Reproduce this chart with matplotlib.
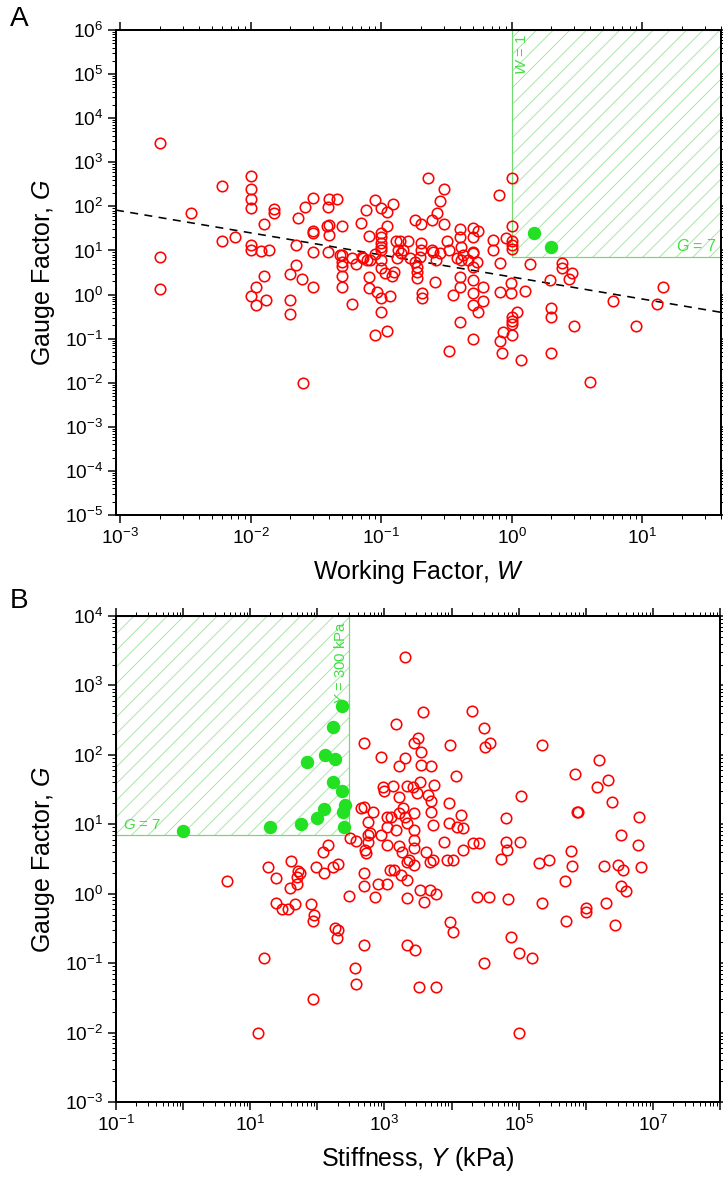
import numpy as np
import matplotlib
matplotlib.use('Agg')
import matplotlib.pyplot as plt
from matplotlib.ticker import LogLocator, FuncFormatter, NullFormatter
from matplotlib.patches import Rectangle

DPI = 100


def px(v):
    # pixel size -> points at the output dpi
    return v * 72.0 / DPI


plt.rcParams['font.family'] = 'Liberation Sans'
plt.rcParams['mathtext.fontset'] = 'custom'
plt.rcParams['mathtext.rm'] = 'Liberation Sans'
plt.rcParams['mathtext.it'] = 'Liberation Sans:italic'
plt.rcParams['mathtext.default'] = 'regular'
plt.rcParams['axes.unicode_minus'] = False
plt.rcParams['hatch.linewidth'] = px(0.9)

# ---- panel A: gauge factor vs working factor ----
W_red = [0.002, 0.002, 0.002, 0.0035, 0.006, 0.006, 0.0075,
         0.01, 0.01, 0.01, 0.01, 0.01, 0.01, 0.01, 0.011, 0.011,
         0.012, 0.0138, 0.0125, 0.0126, 0.013, 0.015, 0.015,
         0.02, 0.02, 0.02, 0.022, 0.022, 0.023, 0.0245, 0.025, 0.026,
         0.03, 0.03, 0.03, 0.03, 0.03, 0.038, 0.039, 0.039,
         0.04, 0.046, 0.04, 0.04, 0.05, 0.05, 0.05, 0.05, 0.05, 0.05,
         0.06, 0.064, 0.07, 0.076, 0.08, 0.072, 0.078, 0.08, 0.08, 0.092,
         0.09, 0.1, 0.11, 0.122, 0.11, 0.1, 0.1, 0.1, 0.1, 0.1,
         0.089, 0.1, 0.1, 0.106, 0.12, 0.125, 0.13, 0.135, 0.139, 0.16,
         0.1, 0.117, 0.1, 0.09, 0.11, 0.147, 0.18, 0.2, 0.2, 0.2,
         0.186, 0.186, 0.186, 0.203, 0.203, 0.226, 0.245, 0.265, 0.28, 0.3,
         0.3, 0.245, 0.26, 0.257, 0.32, 0.33, 0.355, 0.33,
         0.4, 0.4, 0.41, 0.41, 0.4, 0.4, 0.4,
         0.5, 0.55, 0.5, 0.5, 0.5, 0.5, 0.5, 0.5, 0.55, 0.5,
         0.6, 0.6, 0.71, 0.71, 0.8, 0.81, 0.81, 0.86, 0.81, 0.84, 0.9,
         1.0, 1.0, 1.0, 1.0, 1.0, 0.99, 0.99, 1.0, 1.0, 1.0, 1.0,
         1.1, 1.26, 1.17, 1.37, 1.96, 2.0, 2.0, 2.0,
         2.43, 2.43, 2.9, 2.76, 3.0, 4.0, 6.0, 8.9, 13.0, 14.4,
         0.048, 0.059, 0.071, 0.082, 0.131, 0.142, 0.165, 0.18, 0.198,
         0.25, 0.28, 0.38, 0.42, 0.46, 0.5, 0.54]
G_red = [2700, 7.2, 1.35, 72, 290, 16, 20,
         500, 250, 150, 90, 13, 10, 0.93, 1.45, 0.57,
         9.6, 10.5, 40, 2.7, 0.77, 88, 72,
         2.9, 0.75, 0.36, 13, 4.7, 54, 2.3, 0.01, 98,
         155, 28, 25, 9.3, 1.45, 35, 98, 9,
         150, 145, 38, 22, 36, 8, 5.5, 4.5, 2.6, 1.45,
         0.62, 5, 41, 81, 21, 6.6, 6, 2.55, 1.39, 1.16,
         140, 90, 74, 113, 36, 25, 20, 15, 12, 10,
         8.2, 6.1, 4, 3.1, 2.6, 3.3, 16, 10, 16, 16,
         0.82, 0.93, 0.41, 0.12, 0.15, 10, 48, 39, 14.6, 10.3,
         4.3, 3.3, 2.4, 1.07, 0.82, 430, 49, 72, 133, 245,
         40, 10.3, 6.1, 1.96, 16, 10, 0.98, 0.053,
         30, 20.6, 12.2, 6.1, 2.5, 1.5, 0.24,
         32, 27, 20.6, 8.6, 4.3, 2.1, 1.07, 0.58, 0.41, 0.1,
         1.5, 0.7, 17, 10.5, 180, 5.1, 1.16, 0.145, 0.089, 0.047, 19,
         450, 35, 16, 13, 11, 1.8, 1.07, 0.31, 0.25, 0.22, 0.12,
         0.41, 1.22, 0.032, 5.0, 2.1, 0.5, 0.31, 0.047,
         5.3, 4.1, 3.1, 2.2, 0.19, 0.0106, 0.73, 0.19, 0.61, 1.46,
         7.9, 6.6, 7.2, 6.1, 6.6, 8.6, 6.6, 5.6, 7.2,
         9.4, 8.6, 6.6, 7.9, 6.1, 9.4, 5.6]
W_green = [1.47, 1.98]
G_green_A = [25, 12.2]

# power-law trend line G = coef * W^exp
fit_coef = 2.5
fit_exp = -0.5

W_target = 1.0
G_target = 7.0

# ---- panel B: gauge factor vs stiffness ----
Y_red = [4.5, 16, 13, 18.5, 24, 24, 30, 37, 47, 40, 39, 50, 52, 55, 50,
         80, 90, 87, 87, 97, 124, 122, 145, 170, 200, 181, 196, 203,
         295, 310, 380, 370, 380, 490, 490, 490, 510, 535, 560, 560,
         450, 500, 500, 680, 560, 600, 715, 800, 885,
         900, 950, 1000, 1350, 2150, 1100, 1250, 1100, 1100, 1200, 1400, 1100,
         1500, 1650, 1650, 1900, 1650, 1500, 1650, 1800, 1750,
         2000, 2000, 2000, 2200, 2200, 2200, 2200, 2900,
         2800, 3200, 3500, 3500, 3400, 2700, 3100, 2800, 2800, 2800, 2800,
         2800, 2200, 2300,
         3700, 3400, 4700, 3900, 5800, 3300, 5800,
         5000, 5400, 4200, 4800, 5300, 4900, 4400, 5000, 5300,
         7800, 8500, 9300, 9100, 10400, 9600, 11700,
         12000, 14000, 15000, 15000, 21000, 26000,
         9500, 10400, 24000, 36000, 30000,
         20000, 30000, 31000, 38000,
         55000, 64000, 68000, 64000, 110000, 103000,
         70000, 76000, 100000, 160000, 100000,
         200000, 280000, 220000, 220000,
         490000, 510000, 600000, 620000, 730000, 760000, 680000,
         1.0e6, 1.0e6, 1.45e6, 2.15e6, 1.6e6, 1.9e6, 2.0e6, 2.5e6,
         3.0e6, 3.3e6, 3.6e6, 4.0e6, 2.7e6, 3.4e6, 5.9e6, 6.6e6, 6.2e6]
G_red_B = [1.5, 0.12, 0.01, 2.4, 1.7, 0.73, 0.6, 0.6, 0.71, 3.0, 1.22, 1.38, 2.1, 2.0, 1.76,
           0.71, 0.49, 0.41, 0.03, 2.4, 2.0, 4.0, 5.0, 2.45, 2.65, 0.32, 0.23, 0.3,
           0.93, 6.3, 5.8, 0.086, 0.05, 0.18, 2.0, 1.3, 4.25, 3.9, 5.6, 7,
           17, 18, 150, 15, 10.9, 7.4, 0.9, 1.4, 7,
           94, 35, 30, 35.6, 35.6, 12.9, 12.9, 9.2, 5, 2.2, 2.2, 1.4,
           280, 70, 25, 17, 14.4, 8.3, 4.8, 4.0, 1.86,
           2600, 91, 12.9, 10.3, 1.6, 0.86, 0.18, 0.155,
           147, 175, 111, 72, 40, 35, 28, 14.4, 8.3, 6, 4.5,
           2.6, 2.9, 3.1,
           420, 1.13, 1.13, 0.75, 1.0, 0.046, 0.046,
           70, 36.6, 4.0, 2.9, 3.05, 22, 26, 15, 9.8,
           5.6, 3.05, 20.4, 10.3, 3.05, 140, 50,
           9.2, 13.6, 8.8, 4.2, 5.3, 5.3,
           0.39, 0.28, 0.9, 0.9, 0.1,
           430, 240, 130, 150,
           3.2, 5.5, 4.2, 12.2, 25.5, 5.6,
           0.83, 0.24, 0.14, 0.12, 0.01,
           2.8, 3.05, 0.73, 140,
           1.5, 0.41, 4.1, 2.5, 15, 15, 53,
           0.62, 0.55, 35, 44, 84, 2.5, 0.74, 21,
           2.6, 1.3, 2.2, 1.1, 0.35, 7, 5, 2.4, 12.9]
Y_green = [1.0, 20, 57, 100, 125, 250, 240, 255, 230, 170, 185, 70, 130, 170, 230]
G_green_B = [8, 9, 10, 12.5, 16.5, 9, 15, 19, 30, 40, 88, 80, 100, 250, 500]

Y_target = 300.0

RED = '#ff0000'
GREEN = '#22e022'
HATCH_GREEN = '#a3e3a3'
EDGE_GREEN = '#70da70'
TEXT_GREEN = '#44dd44'


def dec_label(v, pos):
    return r'$10^{%d}$' % int(round(np.log10(v)))


def odd_dec_label(v, pos):
    e = int(round(np.log10(v)))
    if e % 2 == 0:
        return ''
    return r'$10^{%d}$' % e


def style_axis(ax):
    for sp in ax.spines.values():
        sp.set_linewidth(px(2))
    for axis in (ax.xaxis, ax.yaxis):
        axis.set_major_locator(LogLocator(base=10, numticks=50))
        axis.set_minor_locator(LogLocator(base=10, subs=np.arange(2, 10), numticks=50))
        axis.set_minor_formatter(NullFormatter())
    ax.tick_params(which='both', direction='out', top=True, right=True,
                   labeltop=False, labelright=False)
    ax.tick_params(which='major', length=px(8), width=px(1.5), labelsize=px(19), pad=px(5))
    ax.tick_params(which='minor', length=px(4), width=px(1.0))


fig = plt.figure(figsize=(723 / DPI, 1183 / DPI), dpi=DPI)

# panel A
axA = fig.add_axes([116 / 723, 1 - 515 / 1183, 605 / 723, 485 / 1183])
axA.set_xscale('log')
axA.set_yscale('log')
axA.set_xlim(9.25e-4, 40)
axA.set_ylim(1e-5, 1e6)
style_axis(axA)
axA.xaxis.set_major_formatter(FuncFormatter(dec_label))
axA.yaxis.set_major_formatter(FuncFormatter(dec_label))

xmax_A = axA.get_xlim()[1]
ymax_A = axA.get_ylim()[1]
axA.add_patch(Rectangle((W_target, G_target), xmax_A - W_target, ymax_A - G_target,
                        facecolor='none', edgecolor=HATCH_GREEN, hatch='//',
                        linewidth=0, zorder=1))
axA.add_patch(Rectangle((W_target, G_target), xmax_A - W_target, ymax_A - G_target,
                        facecolor='none', edgecolor=EDGE_GREEN, linewidth=px(1.2), zorder=1))
axA.text(W_target * 1.06, ymax_A * 0.8, r'$\mathit{W}$ = 1', rotation=90, color=TEXT_GREEN,
         fontsize=px(15), ha='left', va='top', zorder=2)
axA.text(xmax_A * 0.93, G_target * 1.2, r'$\mathit{G}$ = 7', color=TEXT_GREEN,
         fontsize=px(16), ha='right', va='bottom', zorder=2)

W_fit = np.array(axA.get_xlim())
axA.plot(W_fit, fit_coef * W_fit ** fit_exp, color='black', lw=px(1.6),
         dashes=(5, 4), zorder=3)
axA.plot(W_red, G_red, 'o', ms=px(10.5), mfc='none', mec=RED, mew=px(1.6), zorder=4)
axA.plot(W_green, G_green_A, 'o', ms=px(12), color=GREEN, mec=GREEN, zorder=5)
axA.set_xlabel(r'Working Factor, $\mathit{W}$', fontsize=px(25), labelpad=px(10))
axA.set_ylabel(r'Gauge Factor, $\mathit{G}$', fontsize=px(25), labelpad=px(8))

# panel B
axB = fig.add_axes([116 / 723, 1 - 1102 / 1183, 604 / 723, 486 / 1183])
axB.set_xscale('log')
axB.set_yscale('log')
axB.set_xlim(0.1, 1e8)
axB.set_ylim(1e-3, 1e4)
style_axis(axB)
axB.xaxis.set_major_formatter(FuncFormatter(odd_dec_label))
axB.yaxis.set_major_formatter(FuncFormatter(dec_label))

xmin_B = axB.get_xlim()[0]
ymax_B = axB.get_ylim()[1]
axB.add_patch(Rectangle((xmin_B, G_target), Y_target - xmin_B, ymax_B - G_target,
                        facecolor='none', edgecolor=HATCH_GREEN, hatch='//',
                        linewidth=0, zorder=1))
axB.add_patch(Rectangle((xmin_B, G_target), Y_target - xmin_B, ymax_B - G_target,
                        facecolor='none', edgecolor=EDGE_GREEN, linewidth=px(1.2), zorder=1))
axB.text(Y_target * 0.96, ymax_B * 0.85, r'$\mathit{Y}$ = 300 kPa', rotation=90,
         color=TEXT_GREEN, fontsize=px(15), ha='right', va='top', zorder=2)
axB.text(xmin_B * 1.25, G_target * 1.12, r'$\mathit{G}$ = 7', color=TEXT_GREEN,
         fontsize=px(15), ha='left', va='bottom', zorder=2)

axB.plot(Y_red, G_red_B, 'o', ms=px(10.5), mfc='none', mec=RED, mew=px(1.6), zorder=4)
axB.plot(Y_green, G_green_B, 'o', ms=px(12), color=GREEN, mec=GREEN, zorder=5)
axB.set_xlabel(r'Stiffness, $\mathit{Y}$ (kPa)', fontsize=px(25), labelpad=px(10))
axB.set_ylabel(r'Gauge Factor, $\mathit{G}$', fontsize=px(25), labelpad=px(8))

fig.text(10 / 723, 1 - 6 / 1183, 'A', fontsize=px(28), va='top', ha='left')
fig.text(10 / 723, 1 - 588 / 1183, 'B', fontsize=px(28), va='top', ha='left')

fig.savefig('out.png', dpi=DPI)
